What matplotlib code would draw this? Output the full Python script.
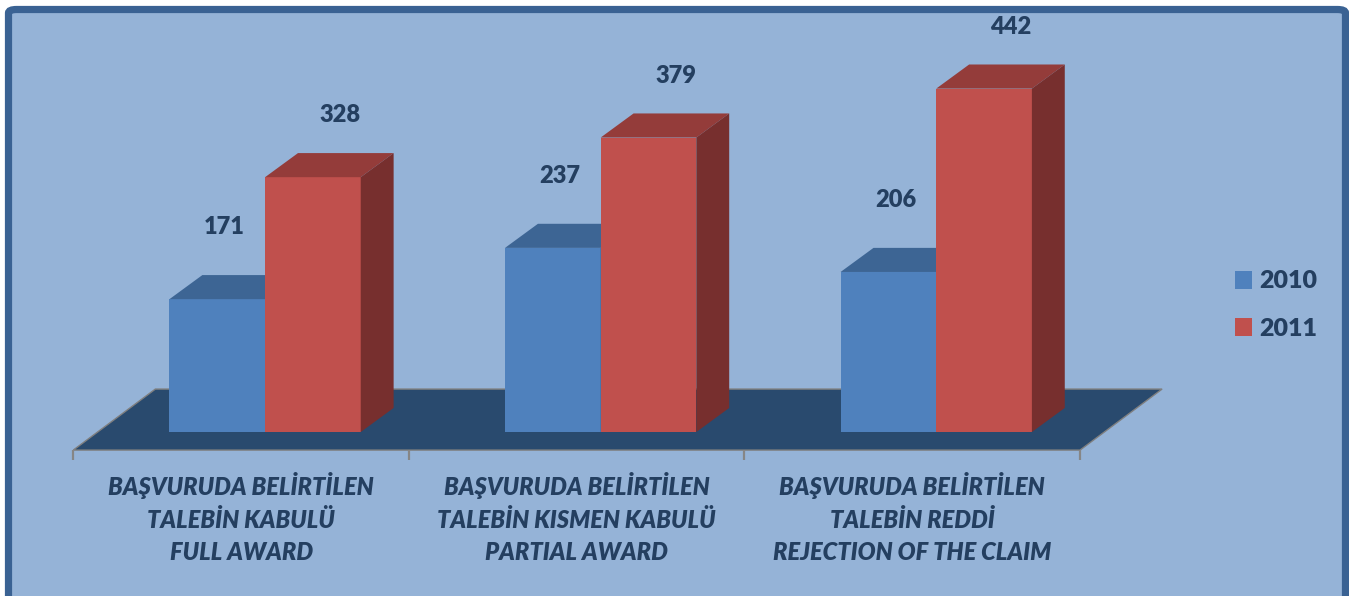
import matplotlib
matplotlib.use("Agg")
import matplotlib.pyplot as plt
from matplotlib.patches import Polygon, Patch, FancyBboxPatch

plt.rcParams['font.family'] = ['Lato', 'DejaVu Sans']

# data
categories = [
    "BAŞVURUDA BELİRTİLEN\nTALEBİN KABULÜ\nFULL AWARD",
    "BAŞVURUDA BELİRTİLEN\nTALEBİN KISMEN KABULÜ\nPARTIAL AWARD",
    "BAŞVURUDA BELİRTİLEN\nTALEBİN REDDİ\nREJECTION OF THE CLAIM",
]
series_names = ["2010", "2011"]
values_2010 = [171, 237, 206]
values_2011 = [328, 379, 442]

# colours (front, top, side)
blue = ("#4F81BD", "#3D6594", "#385D8A")
red = ("#C0504D", "#943C3A", "#772F2E")
bg = "#95B3D7"
floor_c = "#294A6E"
text_c = "#243F60"
wt = "heavy"

fig = plt.figure(figsize=(13.49, 5.96), dpi=100)
fig.patch.set_facecolor("white")
frame = FancyBboxPatch((8.5 / 1349, -0.05), 1337 / 1349, 0.05 + 1 - 9.5 / 596,
                       boxstyle="round,pad=0,rounding_size=0.006",
                       transform=fig.transFigure, facecolor=bg,
                       edgecolor="#3A6293", linewidth=5.2, zorder=-1)
fig.patches.append(frame)

ax = fig.add_axes([0, 0, 1, 1])
ax.set_xlim(-0.79, 3.23)
ax.set_ylim(-211, 556)
ax.axis("off")
ax.patch.set_alpha(0)

w = 0.285            # bar width (category units)
ddx, ddy = 0.098, 31  # bar depth
fdx, fdy = -0.0715, -23.2   # floor front relative to bar front plane
bdx, bdy = 0.173, 55.3      # floor back relative to bar front plane

# floor
n = len(categories)
x0, x1 = -0.5, n - 0.5
floor = Polygon([(x0 + fdx, fdy), (x1 + fdx, fdy), (x1 + bdx, bdy), (x0 + bdx, bdy)],
                closed=True, facecolor=floor_c, edgecolor="#7F7F7F", linewidth=1.0)
ax.add_patch(floor)
for k in range(n + 1):
    xt = k - 0.5 + fdx
    ax.plot([xt, xt], [fdy, fdy - 13], color="#868686", lw=1.6, solid_capstyle="butt")


def bar3d(xl, h, cols):
    f, t, s = cols
    xr = xl + w
    ax.add_patch(Polygon([(xl, 0), (xr, 0), (xr, h), (xl, h)], facecolor=f, edgecolor="none"))
    ax.add_patch(Polygon([(xl, h), (xr, h), (xr + ddx, h + ddy), (xl + ddx, h + ddy)],
                         facecolor=t, edgecolor="none"))
    ax.add_patch(Polygon([(xr, 0), (xr + ddx, ddy), (xr + ddx, h + ddy), (xr, h)],
                         facecolor=s, edgecolor="none"))


for i in range(n):
    bar3d(i - w, values_2010[i], blue)
    bar3d(i, values_2011[i], red)
    ax.annotate(str(values_2010[i]), (i - w / 2, values_2010[i]), xytext=(7, 72),
                textcoords="offset pixels", ha="center", va="center",
                fontsize=17, fontweight=wt, color=text_c)
    ax.annotate(str(values_2011[i]), (i + w / 2, values_2011[i]), xytext=(27, 62),
                textcoords="offset pixels", ha="center", va="center",
                fontsize=17, fontweight=wt, color=text_c)
    ax.annotate(categories[i], (i + fdx, fdy), xytext=(0, -22),
                textcoords="offset pixels", ha="center", va="top",
                fontsize=17, fontweight=wt, fontstyle="italic", color=text_c,
                linespacing=1.5)

handles = [Patch(facecolor=blue[0]), Patch(facecolor=red[0])]
leg = ax.legend(handles, series_names, loc="center left",
                bbox_to_anchor=(1212 / 1349, 1 - 305 / 596), bbox_transform=fig.transFigure,
                frameon=False, handlelength=0.7, handleheight=0.7, handletextpad=0.3,
                labelspacing=1.0, prop={"size": 18, "weight": wt})
for t in leg.get_texts():
    t.set_color(text_c)

fig.savefig("out.png", dpi=100, facecolor=fig.get_facecolor())
